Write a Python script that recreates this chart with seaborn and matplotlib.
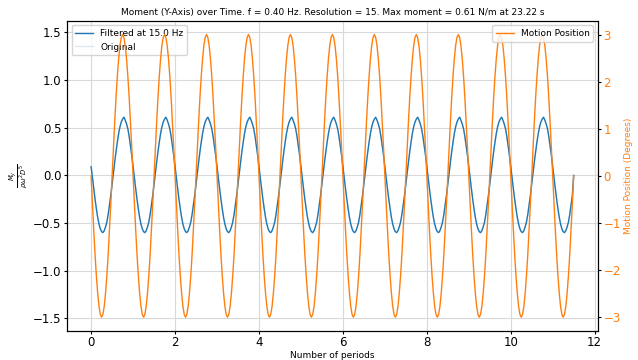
import numpy as np
import pandas as pd
import matplotlib
matplotlib.use("Agg")
import matplotlib.pyplot as plt
import seaborn as sns

# one period of each signal, read at 1/32 period steps (cycles repeat identically)
moment_cycle = [0.09, -0.02, -0.14, -0.25, -0.35, -0.44, -0.51, -0.56,
                -0.59, -0.60, -0.58, -0.54, -0.49, -0.41, -0.31, -0.21,
                -0.09, 0.02, 0.14, 0.25, 0.35, 0.44, 0.51, 0.56,
                0.59, 0.61, 0.58, 0.54, 0.49, 0.41, 0.31, 0.21]
position_cycle = [0.0, -0.59, -1.15, -1.67, -2.12, -2.49, -2.77, -2.94,
                  -3.0, -2.94, -2.77, -2.49, -2.12, -1.67, -1.15, -0.59,
                  0.0, 0.59, 1.15, 1.67, 2.12, 2.49, 2.77, 2.94,
                  3.0, 2.94, 2.77, 2.49, 2.12, 1.67, 1.15, 0.59]
samples_per_period = 32
n_periods = 11.5

n = int(n_periods * samples_per_period) + 1
periods = np.arange(n) / samples_per_period
moment = np.tile(moment_cycle, 12)[:n]
moment[-1] = 0.0
position = np.tile(position_cycle, 12)[:n]

df = pd.DataFrame({"periods": periods, "moment": moment, "position": position})

blue = "#1f77b4"
orange = "#ff7f0e"

fig, ax = plt.subplots(figsize=(6.38, 3.6), dpi=100)
fig.subplots_adjust(left=0.105, right=0.937, bottom=0.081, top=0.942)

sns.lineplot(data=df, x="periods", y="moment", ax=ax, color=blue,
             linewidth=1.0, label="Filtered at 15.0 Hz", estimator=None)
sns.lineplot(data=df, x="periods", y="moment", ax=ax, color=blue,
             linewidth=1.0, alpha=0.15, label="Original", estimator=None)
ax.set_ylim(-1.63, 1.62)
ax.grid(True, color="#d9d9d9", linewidth=0.8)
ax.set_xlabel("Number of periods", fontsize=6.5, labelpad=1)
ax.set_ylabel(r"$\frac{M_y}{\rho\omega^2 D^5}$", fontsize=7, labelpad=2)
ax.tick_params(labelsize=8.5, length=2.5, pad=1.5)
ax.legend(loc="upper left", fontsize=6.5)
ax.set_title("Moment (Y-Axis) over Time. f = 0.40 Hz. Resolution = 15. "
             "Max moment = 0.61 N/m at 23.22 s", fontsize=6.5, pad=4)

ax2 = ax.twinx()
sns.lineplot(data=df, x="periods", y="position", ax=ax2, color=orange,
             linewidth=1.0, label="Motion Position", estimator=None)
ax2.set_ylim(-3.29, 3.29)
ax2.set_ylabel("Motion Position (Degrees)", color=orange, fontsize=6.5,
               labelpad=2)
ax2.tick_params(axis="y", labelcolor=orange, labelsize=8.5, length=2.5, pad=1.5)
ax2.legend(loc="upper right", fontsize=6.5)

plt.savefig("out.png", dpi=100)
